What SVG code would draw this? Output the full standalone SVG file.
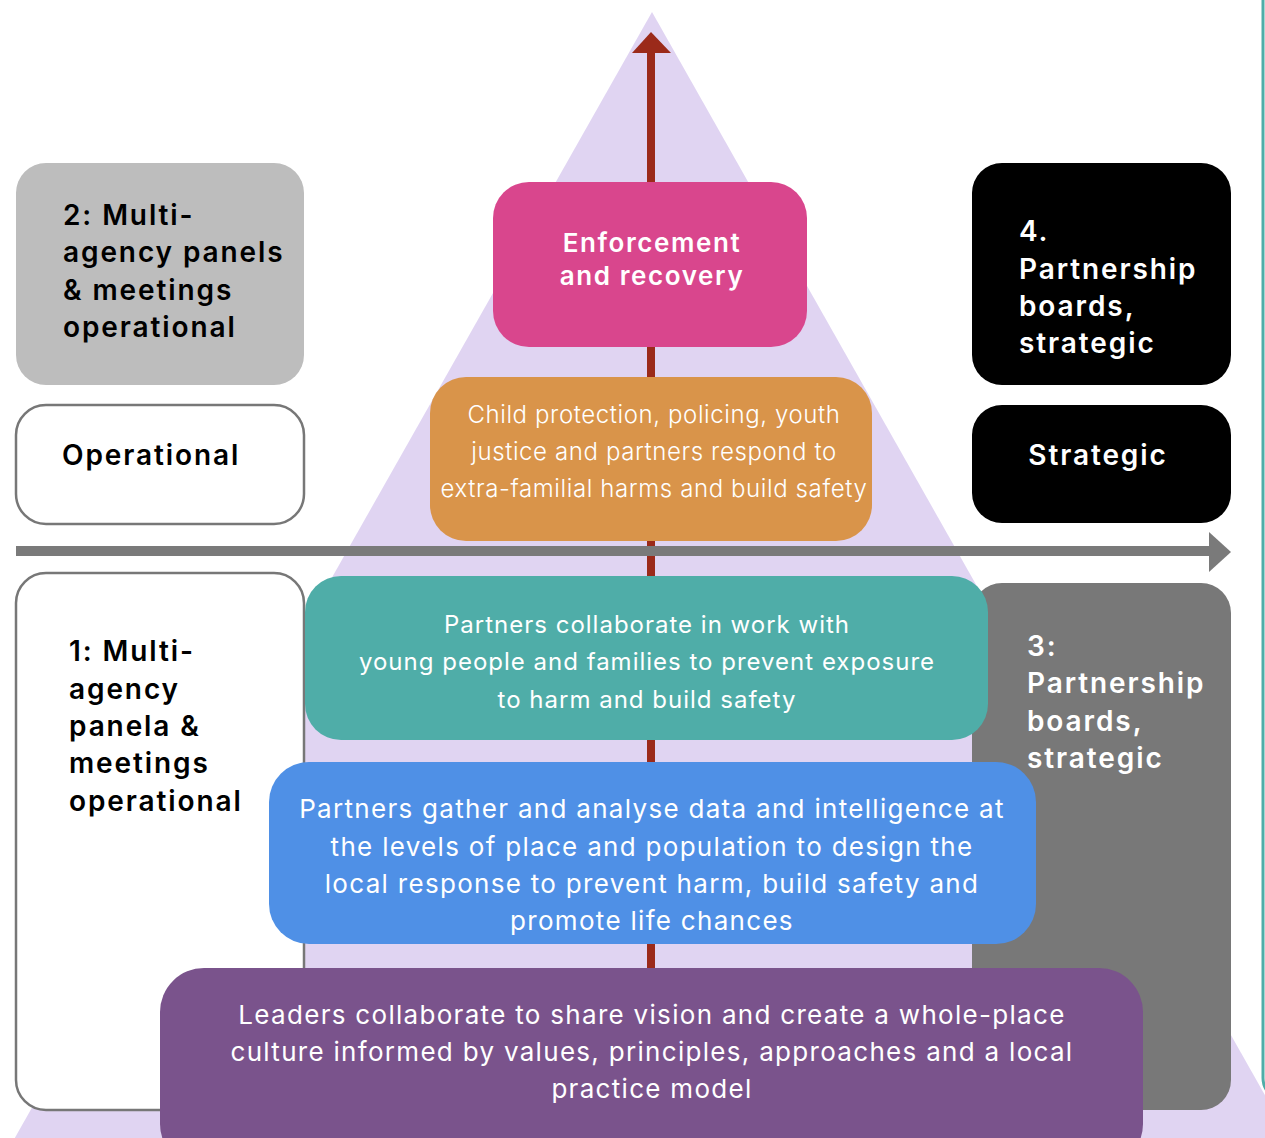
<svg xmlns="http://www.w3.org/2000/svg" width="1265" height="1138" viewBox="0 0 1265 1138">
<style>
.lbl{font-family:Inter,"Open Sans","Liberation Sans",sans-serif;font-weight:600;font-size:28px;letter-spacing:1.9px}
.body{font-family:Inter,"Open Sans","Liberation Sans",sans-serif;font-weight:400;fill:#fff;font-size:26px;letter-spacing:1.3px}
.sm{font-size:24px;letter-spacing:1px}
.mid{text-anchor:middle}
.outline{fill:#fff;stroke:#777;stroke-width:2.5}
</style>
<rect width="1265" height="1138" fill="#fff"/>
<polygon points="652,12 8,1150 1296,1150" fill="#e0d4f2"/>
<rect x="1263" y="-30" width="60" height="1130" rx="22" fill="#fff" stroke="#4fada8" stroke-width="3"/>

<g id="connectors">
<line x1="651" y1="968" x2="651" y2="52" stroke="#9b2a1a" stroke-width="8"/>
<polygon points="632,53 651,32 671,53" fill="#9b2a1a"/>
</g>

<g id="box2">
<rect x="16" y="163" width="288" height="222" rx="30" fill="#bdbdbd"/>
<text class="lbl" x="63" y="225">2: Multi-</text>
<text class="lbl" x="63" y="262">agency panels</text>
<text class="lbl" x="63" y="300">&amp; meetings</text>
<text class="lbl" x="63" y="337">operational</text>
</g>
<g id="operational">
<rect class="outline" x="16" y="405" width="288" height="119" rx="30"/>
<text class="lbl" x="62" y="465">Operational</text>
</g>
<g id="box4">
<rect x="972" y="163" width="259" height="222" rx="30" fill="#000"/>
<text class="lbl" x="1019" y="241" fill="#fff">4.</text>
<text class="lbl" x="1019" y="279" fill="#fff">Partnership</text>
<text class="lbl" x="1019" y="316" fill="#fff">boards,</text>
<text class="lbl" x="1019" y="353" fill="#fff">strategic</text>
</g>
<g id="strategic">
<rect x="972" y="405" width="259" height="118" rx="30" fill="#000"/>
<text class="lbl mid" x="1098" y="465" fill="#fff">Strategic</text>
</g>
<g id="box1">
<rect class="outline" x="16" y="573" width="288" height="537" rx="30"/>
<text class="lbl" x="69" y="661">1: Multi-</text>
<text class="lbl" x="69" y="699">agency</text>
<text class="lbl" x="69" y="736">panela &amp;</text>
<text class="lbl" x="69" y="773">meetings</text>
<text class="lbl" x="69" y="811">operational</text>
</g>
<g id="box3">
<rect x="972" y="583" width="259" height="527" rx="30" fill="#787878"/>
<text class="lbl" x="1027" y="656" fill="#fff">3:</text>
<text class="lbl" x="1027" y="693" fill="#fff">Partnership</text>
<text class="lbl" x="1027" y="731" fill="#fff">boards,</text>
<text class="lbl" x="1027" y="768" fill="#fff">strategic</text>
</g>
<g id="enforcement">
<rect x="493" y="182" width="314" height="165" rx="36" fill="#d9468d"/>
<text class="lbl mid" x="652" y="252" fill="#fff" style="font-size:26px;letter-spacing:1.6px">Enforcement</text>
<text class="lbl mid" x="652" y="285" fill="#fff" style="font-size:26px;letter-spacing:1.6px">and recovery</text>
</g>
<g id="response">
<rect x="430" y="377" width="442" height="164" rx="36" fill="#d9944a"/>
<text class="body mid" x="654" y="423" style="font-size:24px;letter-spacing:0.6px;font-weight:300">Child protection, policing, youth</text>
<text class="body mid" x="654" y="460" style="font-size:24px;letter-spacing:0.6px;font-weight:300">justice and partners respond to</text>
<text class="body mid" x="654" y="497" style="font-size:24px;letter-spacing:0.6px;font-weight:300">extra-familial harms and build safety</text>
</g>
<g id="prevent">
<rect x="305" y="576" width="683" height="164" rx="36" fill="#4fada8"/>
<text class="body sm mid" x="647" y="633">Partners collaborate in work with</text>
<text class="body sm mid" x="647" y="670">young people and families to prevent exposure</text>
<text class="body sm mid" x="647" y="708">to harm and build safety</text>
</g>
<g id="data">
<rect x="269" y="762" width="767" height="182" rx="40" fill="#4f90e6"/>
<text class="body mid" x="652" y="818">Partners gather and analyse data and intelligence at</text>
<text class="body mid" x="652" y="856">the levels of place and population to design the</text>
<text class="body mid" x="652" y="893">local response to prevent harm, build safety and</text>
<text class="body mid" x="652" y="930">promote life chances</text>
</g>
<g id="leaders">
<rect x="160" y="968" width="983" height="200" rx="44" fill="#7a538c"/>
<text class="body mid" x="652" y="1024">Leaders collaborate to share vision and create a whole-place</text>
<text class="body mid" x="652" y="1061">culture informed by values, principles, approaches and a local</text>
<text class="body mid" x="652" y="1098">practice model</text>
</g>
<g id="axis">
<line x1="16" y1="551" x2="1212" y2="551" stroke="#7a7a7a" stroke-width="10"/>
<polygon points="1209,532 1231,552 1209,572" fill="#7a7a7a"/>
</g>
</svg>
